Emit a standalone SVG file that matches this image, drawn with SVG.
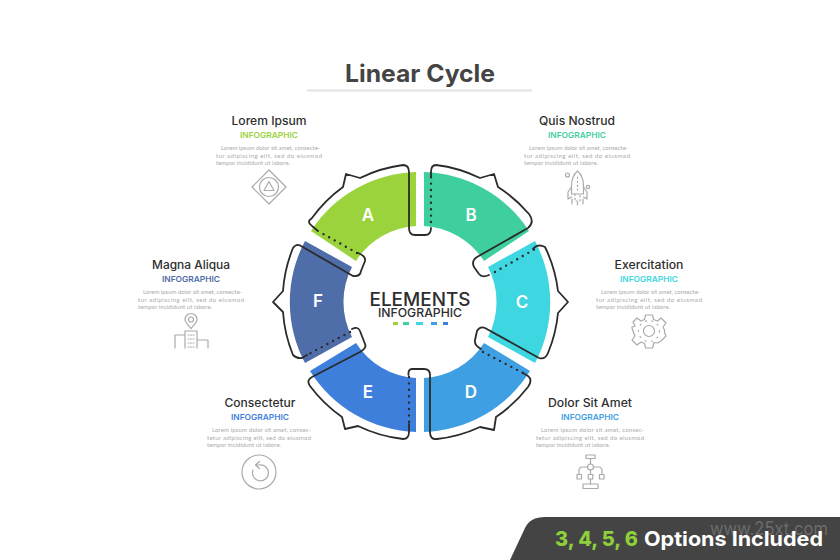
<svg xmlns="http://www.w3.org/2000/svg" width="840" height="560" viewBox="0 0 840 560">
<style>
text{font-family:Inter,"Open Sans","Liberation Sans",sans-serif}
.h{font-size:11.5px;font-weight:500;fill:#2e2e2e;text-anchor:middle}
.s{font-size:8px;font-weight:600;text-anchor:middle}
.b{font-family:Lato,"Liberation Sans",sans-serif;font-size:6px;fill:#aaa}
.l{font-size:17px;font-weight:600;fill:#fff;text-anchor:middle}
.i{fill:none;stroke:#aaa;stroke-width:1.2;stroke-linejoin:round;stroke-linecap:round}
.o{fill:none;stroke:#2b2b2b;stroke-width:1.8;stroke-linejoin:round;stroke-linecap:round}
.d{fill:none;stroke:#2b2b2b;stroke-width:2.4;stroke-linecap:round;stroke-dasharray:0 6.4}
</style>
<rect width="840" height="560" fill="#fff"/>
<g id="title">
<text x="420" y="82" font-size="24" font-weight="700" fill="#444" text-anchor="middle" textLength="150" lengthAdjust="spacingAndGlyphs">Linear Cycle</text>
<rect x="307" y="89.500" width="225" height="2" fill="#e2e2e2"/>
</g>
<g id="node-a">
<path d="M416 172A130 130 0 0 0 311 231L356 261A76 76 0 0 1 416 226Z" fill="#9bd33c"/>
<text class="l" x="368" y="221">A</text>
<text class="h" x="269" y="125" textLength="75" lengthAdjust="spacingAndGlyphs">Lorem Ipsum</text>
<text class="s" x="269" y="138" fill="#9bd33c" textLength="58" lengthAdjust="spacingAndGlyphs">INFOGRAPHIC</text>
<text class="b" x="221" y="150" textLength="99">Lorem ipsum dolor sit amet, consecte-</text>
<text class="b" x="216" y="157.500" textLength="106">tur adipiscing elit, sed do eiusmod</text>
<text class="b" x="216" y="165" textLength="74">tempor incididunt ut labore.</text>
<g class="i"><path d="M269 170L286 187L269 204L252 187Z"/><circle cx="269" cy="187" r="9.500"/><path d="M269 181.500L274 190.500H264Z"/></g>
</g>
<g id="node-b">
<path d="M424 172A130 130 0 0 1 529 231L484 261A76 76 0 0 0 424 226Z" fill="#3fcf9e"/>
<text class="l" x="471" y="221">B</text>
<text class="h" x="577" y="125" textLength="76" lengthAdjust="spacingAndGlyphs">Quis Nostrud</text>
<text class="s" x="577" y="138" fill="#3fcf9e" textLength="58" lengthAdjust="spacingAndGlyphs">INFOGRAPHIC</text>
<text class="b" x="529" y="150" textLength="99">Lorem ipsum dolor sit amet, consecte-</text>
<text class="b" x="524" y="157.500" textLength="106">tur adipiscing elit, sed do eiusmod</text>
<text class="b" x="524" y="165" textLength="74">tempor incididunt ut labore.</text>
<g class="i"><path d="M577.500 171C573 175 571.500 180 571.500 186V194H583.500V186C583.500 180 582 175 577.500 171Z"/><path d="M571.500 187L568 192V199L571.500 197M583.500 187L587 192V199L583.500 197"/><path d="M575 194V201H580V194M577.500 177V190" stroke-dasharray="1.500 2.500"/><path d="M572 199V204M583 199V204M577.500 202V205"/><circle cx="567.500" cy="175" r="2"/><circle cx="588" cy="187" r="1.700"/></g>
</g>
<g id="node-c">
<path d="M535 241A130 130 0 0 1 535 363L488 337A76 76 0 0 0 488 267Z" fill="#3ed6e0"/>
<text class="l" x="522" y="308">C</text>
<text class="h" x="649" y="269" textLength="69" lengthAdjust="spacingAndGlyphs">Exercitation</text>
<text class="s" x="649" y="282" fill="#3ed6e0" textLength="58" lengthAdjust="spacingAndGlyphs">INFOGRAPHIC</text>
<text class="b" x="601" y="294" textLength="99">Lorem ipsum dolor sit amet, consecte-</text>
<text class="b" x="596" y="301.500" textLength="106">tur adipiscing elit, sed do eiusmod</text>
<text class="b" x="596" y="309" textLength="74">tempor incididunt ut labore.</text>
<g class="i"><path d="M645.500 315H652.500L653.500 319.500L657.500 321L661 318L666 323L663 327L664.500 330V332.500L666 336L661 341L657.500 343L654 342.500L652.500 348H645.500L644.500 343.500L641 342L637 345L632 340L635 336L633.500 332.500L632 328V327L635 326L633 322L637 318L641 321L644.500 319.500Z"/><circle cx="649" cy="331" r="5.500"/><circle cx="649" cy="331" r="10.500" stroke-dasharray="1 5.500"/></g>
</g>
<g id="node-d">
<path d="M424 432A130 130 0 0 0 530 371L484 343A76 76 0 0 1 424 378Z" fill="#3ea0e2"/>
<text class="l" x="471" y="398">D</text>
<text class="h" x="590" y="407" textLength="84" lengthAdjust="spacingAndGlyphs">Dolor Sit Amet</text>
<text class="s" x="590" y="420" fill="#3ea0e2" textLength="58" lengthAdjust="spacingAndGlyphs">INFOGRAPHIC</text>
<text class="b" x="541" y="432" textLength="103">Lorem ipsum dolor sit amet, consec-</text>
<text class="b" x="536" y="439.500" textLength="108">tetur adipiscing elit, sed do eiusmod</text>
<text class="b" x="536" y="447" textLength="74">tempor incididunt ut labore.</text>
<g class="i"><rect x="586" y="455" width="9" height="3.500"/><circle cx="590.500" cy="467" r="3"/><path d="M590.500 458.500V464M590.500 470V474.500M587.500 467H582.500Q579 467 579 471V474.500M593.500 467H598.500Q602 467 602 471V474.500M590.500 479V484"/><rect x="577" y="474.500" width="4.500" height="4.500"/><rect x="588.300" y="474.500" width="4.500" height="4.500"/><rect x="599.500" y="474.500" width="4.500" height="4.500"/><rect x="583" y="484" width="15" height="4.500"/></g>
</g>
<g id="node-e">
<path d="M416 432A130 130 0 0 1 310 371L356 343A76 76 0 0 0 416 378Z" fill="#3f7fdc"/>
<text class="l" x="368" y="398">E</text>
<text class="h" x="260" y="407" textLength="71" lengthAdjust="spacingAndGlyphs">Consectetur</text>
<text class="s" x="260" y="420" fill="#3f7fdc" textLength="58" lengthAdjust="spacingAndGlyphs">INFOGRAPHIC</text>
<text class="b" x="212" y="432" textLength="99">Lorem ipsum dolor sit amet, consec-</text>
<text class="b" x="207" y="439.500" textLength="104">tetur adipiscing elit, sed do eiusmod</text>
<text class="b" x="207" y="447" textLength="74">tempor incididunt ut labore.</text>
<g class="i"><circle cx="259" cy="472" r="17"/><path d="M253 470A8 8 0 1 0 259 465L255.500 465M259.500 461.500L255.500 465L259.500 468.500"/></g>
</g>
<g id="node-f">
<path d="M305 241A130 130 0 0 0 305 363L352 337A76 76 0 0 1 352 267Z" fill="#4f6da8"/>
<text class="l" x="318" y="307">F</text>
<text class="h" x="191" y="269" textLength="78" lengthAdjust="spacingAndGlyphs">Magna Aliqua</text>
<text class="s" x="191" y="282" fill="#4f6da8" textLength="58" lengthAdjust="spacingAndGlyphs">INFOGRAPHIC</text>
<text class="b" x="143" y="294" textLength="99">Lorem ipsum dolor sit amet, consecte-</text>
<text class="b" x="138" y="301.500" textLength="106">tur adipiscing elit, sed do eiusmod</text>
<text class="b" x="138" y="309" textLength="74">tempor incididunt ut labore.</text>
<g class="i"><path d="M191 328.500C187 324 185 322 185 319.500A6 6 0 0 1 197 319.500C197 322 195 324 191 328.500Z"/><circle cx="191" cy="319.500" r="2.500"/><path d="M185 348V331H197V348M185 335H175V348M197 340H208V348"/><path d="M188 335H194M188 339H194M188 343H194M188 347H194" stroke-dasharray="1 1.500"/></g>
</g>
<g id="center">
<text x="420" y="306" font-size="18" font-weight="500" fill="#2e2e2e" text-anchor="middle" textLength="101" lengthAdjust="spacingAndGlyphs">ELEMENTS</text>
<text x="420" y="317" font-size="12" font-weight="500" fill="#2e2e2e" text-anchor="middle" textLength="84" lengthAdjust="spacingAndGlyphs">INFOGRAPHIC</text>
<rect x="393" y="322" width="5" height="3" fill="#9bd33c"/>
<rect x="403" y="322" width="6" height="3" fill="#3fcf9e"/>
<rect x="416" y="322" width="7" height="3" fill="#3ed6e0"/>
<rect x="431" y="322" width="6" height="3" fill="#3ea0e2"/>
<rect x="443" y="322" width="5" height="3" fill="#3f7fdc"/>
</g>
<g id="connectors">
<path class="o" d="M431 176V172Q431 165 436 165A138 138 0 0 1 480 178L494 174L498 187A138 138 0 0 1 529 214Q535 222 528 228L477 257Q471 261 474 267L479 274Q482 278 489 275M533 249L535 247Q539 244 545 247A138 138 0 0 1 558 291L568 302L558 313A138 138 0 0 1 548 353Q545 360 539 358L485 328Q480 326 477 331L475 340Q474 345 481 349M523 373L528 376Q533 380 528 387A138 138 0 0 1 496 417L494 430L480 427A138 138 0 0 1 437 439Q430 440 430 432V375Q430 369 424 369H412Q408 369 408.500 375M409 424V432Q409 439 403 439A138 138 0 0 1 358 426L345 429L342 417A138 138 0 0 1 310 386Q306 380 312 377L360 352Q367 348 365 344L360 331Q358 326 352 329M307 355L302 358Q297 359 293 355A138 138 0 0 1 283 312L273 302L283 291A138 138 0 0 1 293 248Q296 243 301 246L353 276Q360 277 361 271L365 261Q366 256 358 253M318 231L312 226Q306 222 312 218A138 138 0 0 1 343 187L346 174L360 178A138 138 0 0 1 403 165Q409 165 409 172V228Q409 235 415 235H425Q431 235 431 228"/>
<path class="d" d="M431 222V176"/>
<path class="d" d="M495 272L535 249"/>
<path class="d" d="M483 352L523 373"/>
<path class="d" d="M409 377V424"/>
<path class="d" d="M350 332L307 355"/>
<path class="d" d="M357 253L318 231"/>
</g>
<g id="banner">
<path d="M510 560L525 528Q530 517 545 517H840V560Z" fill="#444"/>
<text x="555" y="546" font-size="20" font-weight="800" fill="#8ed03a" textLength="83" lengthAdjust="spacingAndGlyphs">3, 4, 5, 6</text>
<text x="644" y="546" font-size="20" font-weight="700" fill="#fff" textLength="179" lengthAdjust="spacingAndGlyphs">Options Included</text>
<text x="710" y="535" font-size="18" fill="#fff" fill-opacity=".22" textLength="118" lengthAdjust="spacingAndGlyphs">www.25xt.com</text>
</g>
</svg>
